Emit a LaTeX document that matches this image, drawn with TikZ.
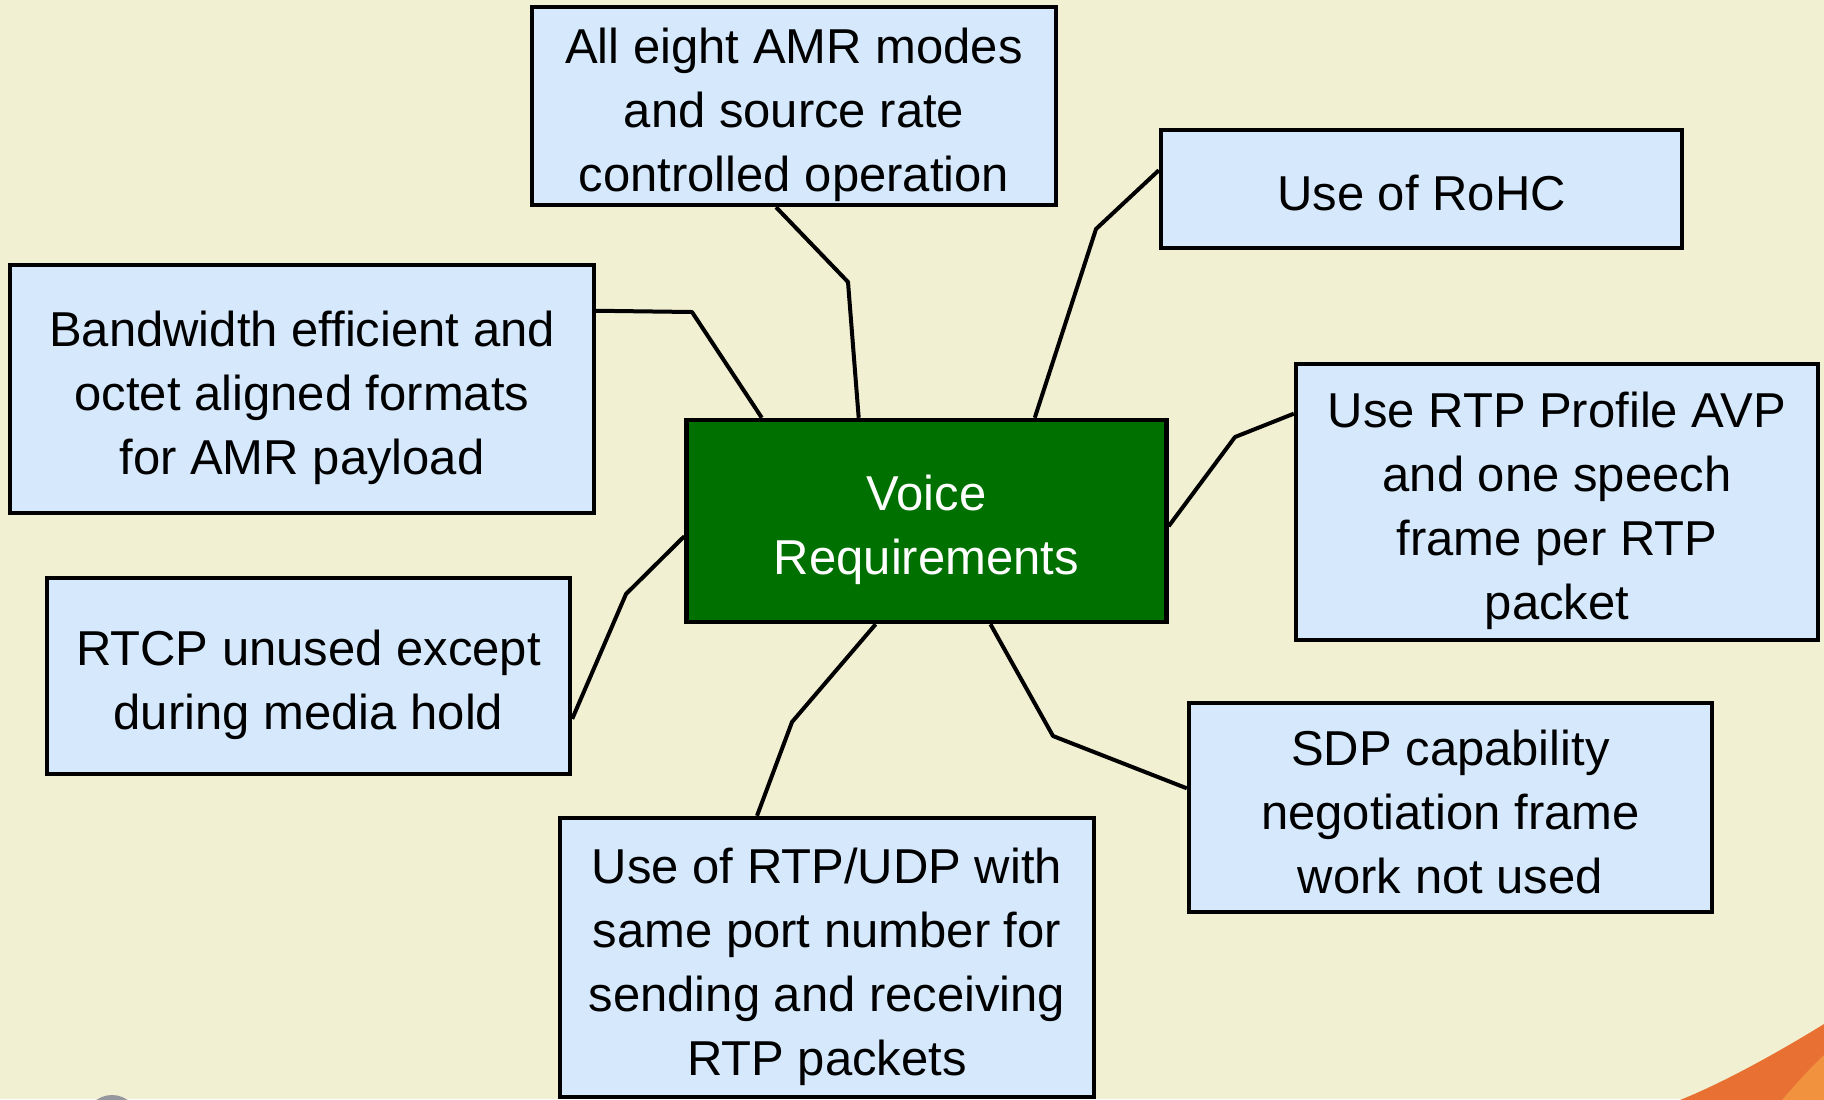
\documentclass[tikz,border=0pt]{standalone}
\usepackage{fontspec}
\setmainfont{Liberation Sans}
\usetikzlibrary{calc}
\definecolor{paper}{RGB}{242,240,210}
\definecolor{boxfill}{RGB}{214,233,252}
\definecolor{voicegreen}{RGB}{0,112,0}
\definecolor{swooshdark}{RGB}{232,112,50}
\definecolor{swooshlight}{RGB}{241,146,62}
\definecolor{ringgrey}{RGB}{150,150,158}
\tikzset{
  reqbox/.style={draw=black, fill=boxfill, line width=2.2pt, align=flush center,
    inner sep=0pt, font=\fontsize{24.5}{32}\selectfont,
    % fixed first-line height and last-line depth keep the text block
    % sitting slightly below the middle of every box
    execute at begin node={\rule{0pt}{28pt}},
    execute at end node={\rule[-6.4pt]{0pt}{0pt}}},
  hubbox/.style={reqbox, fill=voicegreen, text=white},
  link/.style={line width=2pt, line join=round}
}
\begin{document}
\begin{tikzpicture}[x=0.5pt, y=-0.5pt]
\useasboundingbox (0,0) rectangle (1824,1099);
\fill[paper] (0,0) rectangle (1824,1099);

% corner ornaments
\begin{scope}
  \clip (0,0) rectangle (1824,1099);
  \draw[ringgrey, line width=3pt] (112,1122) circle[radius=24];
  \fill[swooshdark] (1680,1100) .. controls (1730,1080) and (1790,1045) .. (1824,1024) -- (1824,1100) -- cycle;
  \fill[swooshlight] (1782,1100) .. controls (1795,1085) and (1810,1068) .. (1824,1055) -- (1824,1100) -- cycle;
\end{scope}

% bend points of the connectors
\coordinate (bModes) at (848,282);
\coordinate (bRohc) at (1096,229);
\coordinate (bFormats) at (692,312);
\coordinate (bAvp) at (1235,437);
\coordinate (bRtcp) at (626,594);
\coordinate (bSdp) at (1053,736);
\coordinate (bUdp) at (792,722);

% hub and requirement boxes
\node[hubbox, text width=240pt, minimum height=101pt] (voice) at (926.5,521) {Voice\\Requirements};
\node[reqbox, text width=262pt, minimum height=99pt] (modes) at (794,106) {All eight AMR modes\\and source rate\\controlled operation};
\node[reqbox, text width=260.5pt, minimum height=59pt] (rohc) at (1421.5,189) {Use of RoHC};
\node[reqbox, text width=292pt, minimum height=124pt] (formats) at (302,389) {Bandwidth efficient and\\octet aligned formats\\for AMR payload};
\node[reqbox, text width=261pt, minimum height=138pt] (avp) at (1557,502) {Use RTP Profile AVP\\and one speech\\frame per RTP\\packet};
\node[reqbox, text width=261.5pt, minimum height=98pt] (rtcp) at (308.5,676) {RTCP unused except\\during media hold};
\node[reqbox, text width=261.5pt, minimum height=104.5pt] (sdp) at (1450.5,807.5) {SDP capability\\negotiation frame\\work not used};
\node[reqbox, text width=267pt, minimum height=139.5pt] (udp) at (827,957.5) {Use of RTP/UDP with\\same port number for\\sending and receiving\\RTP packets};

% connectors from each requirement to the hub
\draw[link] ($(modes.south west)!0.466!(modes.south east)$) -- (bModes) -- ($(voice.north west)!0.36!(voice.north east)$);
\draw[link] ($(rohc.north west)!0.347!(rohc.south west)$) -- (bRohc) -- ($(voice.north west)!0.7235!(voice.north east)$);
\draw[link] ($(formats.north east)!0.19!(formats.south east)$) -- (bFormats) -- ($(voice.north west)!0.16!(voice.north east)$);
\draw[link] ($(avp.north west)!0.185!(avp.south west)$) -- (bAvp) -- ($(voice.north east)!0.525!(voice.south east)$);
\draw[link] ($(rtcp.north east)!0.714!(rtcp.south east)$) -- (bRtcp) -- ($(voice.north west)!0.574!(voice.south west)$);
\draw[link] ($(sdp.north west)!0.41!(sdp.south west)$) -- (bSdp) -- ($(voice.south west)!0.632!(voice.south east)$);
\draw[link] ($(udp.north west)!0.37!(udp.north east)$) -- (bUdp) -- ($(voice.south west)!0.395!(voice.south east)$);
\end{tikzpicture}
\end{document}
